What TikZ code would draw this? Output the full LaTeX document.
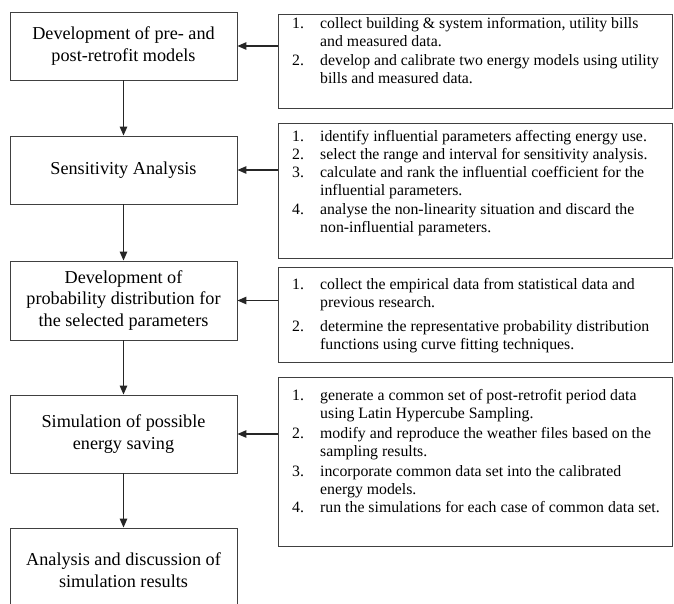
\documentclass[tikz,border=0pt]{standalone}
\usepackage{fontspec}
\setmainfont{Liberation Serif}
\usetikzlibrary{arrows.meta}
\newcommand{\rfont}{\fontsize{15.8}{18.3}\selectfont}
\newcommand{\lfont}{\fontsize{18.2}{21.5}\selectfont}
\begin{document}
\begin{tikzpicture}[x=1pt,y=-1pt,
  lbox/.style={draw=black!75, line width=0.9pt, minimum width=227pt, align=center, font=\lfont, inner sep=0pt},
  rbox/.style={draw=black!75, line width=0.9pt, minimum width=394pt, inner sep=0pt},
  rtext/.style={anchor=north west, inner sep=0pt, font=\rfont},
  arr/.style={line width=1.3pt, draw=black!85, -{Triangle[length=9pt,width=7.5pt]}}]
\useasboundingbox (0,0) rectangle (674,604);
\clip (0,0) rectangle (674,604);
\fill[white] (0,0) rectangle (674,604);

% left column
\node[lbox, minimum height=68pt] (b1) at (123.5,46) {Development of pre- and\\post-retrofit models};
\node[lbox, minimum height=68pt] (b2) at (123.5,170) {Sensitivity Analysis};
\node[lbox, minimum height=79pt] (b3) at (123.5,300.5) {Development of\\probability distribution for\\the selected parameters};
\node[lbox, minimum height=78pt] (b4) at (123.5,434) {Simulation of possible\\energy saving};
\node[lbox, minimum height=84pt] (b5) at (123.5,570) {Analysis and discussion of\\simulation results};

% right column frames
\node[rbox, minimum height=94pt] (r1) at (475,61) {};
\node[rbox, minimum height=135pt] (r2) at (475,190.5) {};
\node[rbox, minimum height=95pt] (r3) at (475,314.5) {};
\node[rbox, minimum height=169pt] (r4) at (475,461.5) {};

% right column texts
\node[rtext] (t1) at (292,15) {\begin{tabular}{@{}p{28pt}@{}l@{}}
1. & collect building \& system information, utility bills\\
   & and measured data.\\[0.5pt]
2. & develop and calibrate two energy models using utility\\
   & bills and measured data.
\end{tabular}};
\node[rtext] (t2) at (292,128) {\begin{tabular}{@{}p{28pt}@{}l@{}}
1. & identify influential parameters affecting energy use.\\
2. & select the range and interval for sensitivity analysis.\\
3. & calculate and rank the influential coefficient for the\\
   & influential parameters.\\
4. & analyse the non-linearity situation and discard the\\
   & non-influential parameters.
\end{tabular}};
\node[rtext] (t3) at (292,276) {\begin{tabular}{@{}p{28pt}@{}l@{}}
1. & collect the empirical data from statistical data and\\
   & previous research.\\[6pt]
2. & determine the representative probability distribution\\
   & functions using curve fitting techniques.
\end{tabular}};
\node[rtext] (t4) at (292,387) {\begin{tabular}{@{}p{28pt}@{}l@{}}
1. & generate a common set of post-retrofit period data\\
   & using Latin Hypercube Sampling.\\[1.5pt]
2. & modify and reproduce the weather files based on the\\
   & sampling results.\\[1.5pt]
3. & incorporate common data set into the calibrated\\
   & energy models.\\
4. & run the simulations for each case of common data set.
\end{tabular}};

% connectors
\draw[arr] (b1.south) -- (b2.north);
\draw[arr] (b2.south) -- (b3.north);
\draw[arr] (b3.south) -- (b4.north);
\draw[arr] (b4.south) -- (b5.north);
\draw[arr] (b1.east -| r1.west) -- (b1.east);
\draw[arr] (b2.east -| r2.west) -- (b2.east);
\draw[arr] (b3.east -| r3.west) -- (b3.east);
\draw[arr] (b4.east -| r4.west) -- (b4.east);
\end{tikzpicture}
\end{document}
